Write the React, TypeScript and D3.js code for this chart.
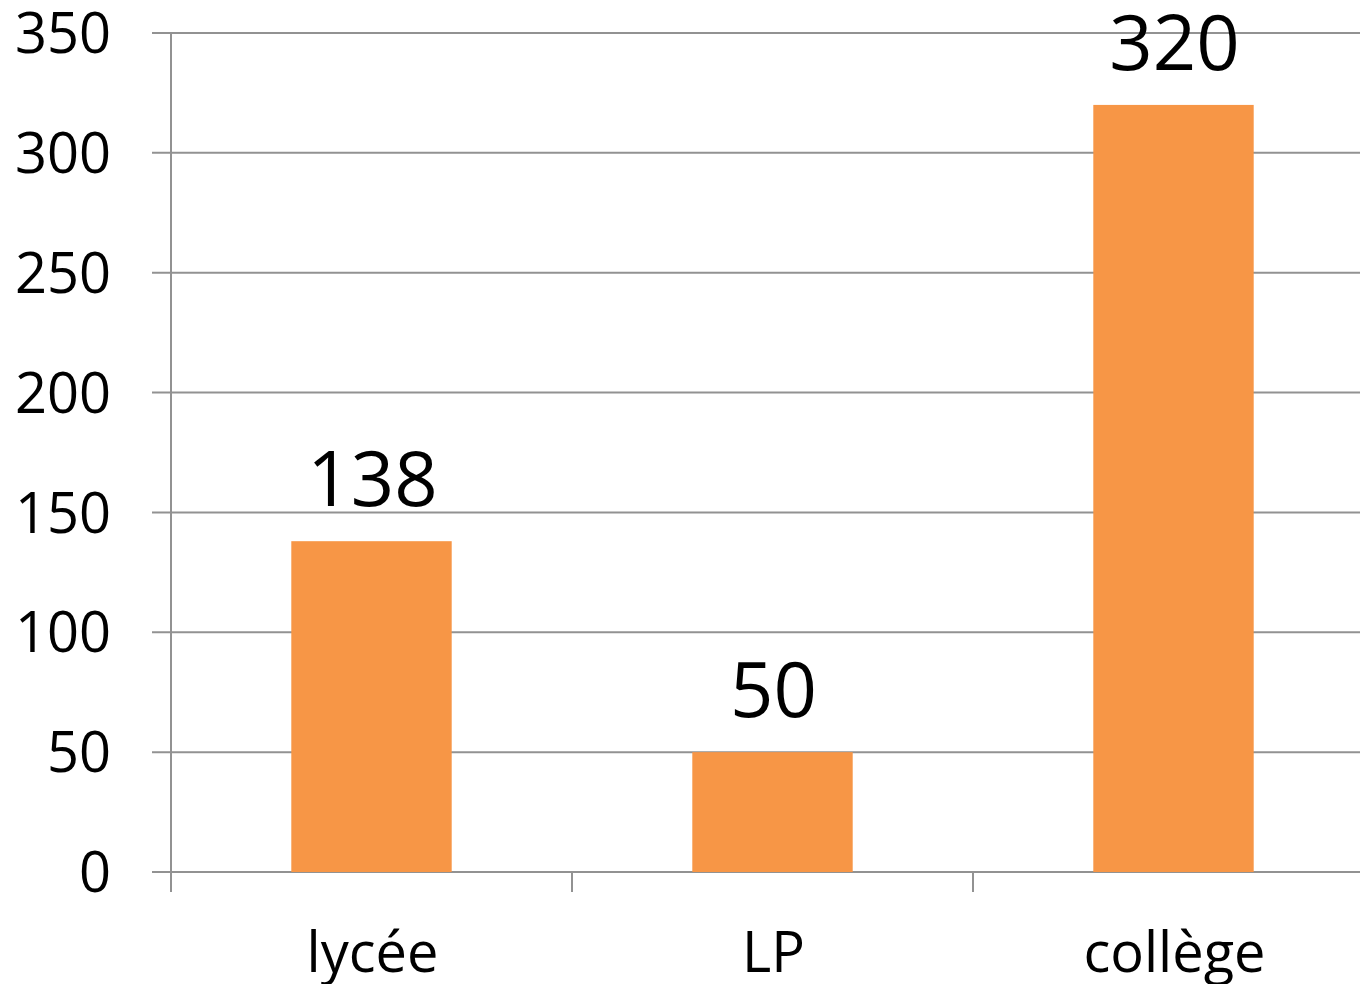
import React, { useEffect, useRef } from 'react'
import * as d3 from 'd3'

const categories = ['lycée', 'LP', 'collège']
const values = [138, 50, 320]
const yTicks = [0, 50, 100, 150, 200, 250, 300, 350]

export default function App() {
  const ref = useRef<SVGSVGElement>(null)

  useEffect(() => {
    document.body.style.margin = '0'
    const svg = d3.select(ref.current)
    svg.selectAll('*').remove()

    const width = 1360
    const height = 984
    const left = 171
    const font = '"Open Sans", "Noto Sans", sans-serif'

    // plot runs past the right edge, like the original crop
    const x = d3.scaleBand().domain(categories).range([left, left + 401 * 3])
      .paddingInner(0.6).paddingOuter(0.3)
    const y = d3.scaleLinear().domain([0, 350]).range([872, 33])
    const step = x.step()
    const grid = '#929292'

    // horizontal gridlines + left ticks
    svg.append('g').selectAll('line').data(yTicks).enter().append('line')
      .attr('x1', left - 19).attr('x2', width)
      .attr('y1', d => y(d)).attr('y2', d => y(d))
      .attr('stroke', grid).attr('stroke-width', 2)

    // y axis line
    svg.append('line')
      .attr('x1', left).attr('x2', left)
      .attr('y1', y(350)).attr('y2', y(0) + 20)
      .attr('stroke', grid).attr('stroke-width', 2)

    // category boundary ticks
    svg.append('g').selectAll('line').data(categories.slice(1)).enter().append('line')
      .attr('x1', (d, i) => left + step * (i + 1)).attr('x2', (d, i) => left + step * (i + 1))
      .attr('y1', y(0)).attr('y2', y(0) + 20)
      .attr('stroke', grid).attr('stroke-width', 2)

    // y tick labels
    svg.append('g').selectAll('text').data(yTicks).enter().append('text')
      .attr('x', 111).attr('y', d => y(d))
      .attr('dy', '0.36em')
      .attr('text-anchor', 'end')
      .attr('font-family', font).attr('font-size', 56)
      .attr('fill', '#000')
      .text(d => d)

    // bars
    svg.append('g').selectAll('rect').data(values).enter().append('rect')
      .attr('x', (d, i) => x(categories[i])!)
      .attr('width', x.bandwidth())
      .attr('y', d => y(d))
      .attr('height', d => y(0) - y(d))
      .attr('fill', '#F79646')

    // value labels
    svg.append('g').selectAll('text').data(values).enter().append('text')
      .attr('x', (d, i) => x(categories[i])! + x.bandwidth() / 2 + 1)
      .attr('y', d => y(d) - 35)
      .attr('text-anchor', 'middle')
      .attr('font-family', font).attr('font-size', 76)
      .attr('fill', '#000')
      .text(d => d)

    // category labels
    svg.append('g').selectAll('text').data(categories).enter().append('text')
      .attr('x', d => x(d)! + x.bandwidth() / 2 + 1)
      .attr('y', 972)
      .attr('text-anchor', 'middle')
      .attr('font-family', font).attr('font-size', 56)
      .attr('fill', '#000')
      .text(d => d)

    svg.attr('width', width).attr('height', height)
  }, [])

  return (
    <svg ref={ref} width={1360} height={984} style={{ display: 'block', background: '#fff' }}></svg>
  )
}
